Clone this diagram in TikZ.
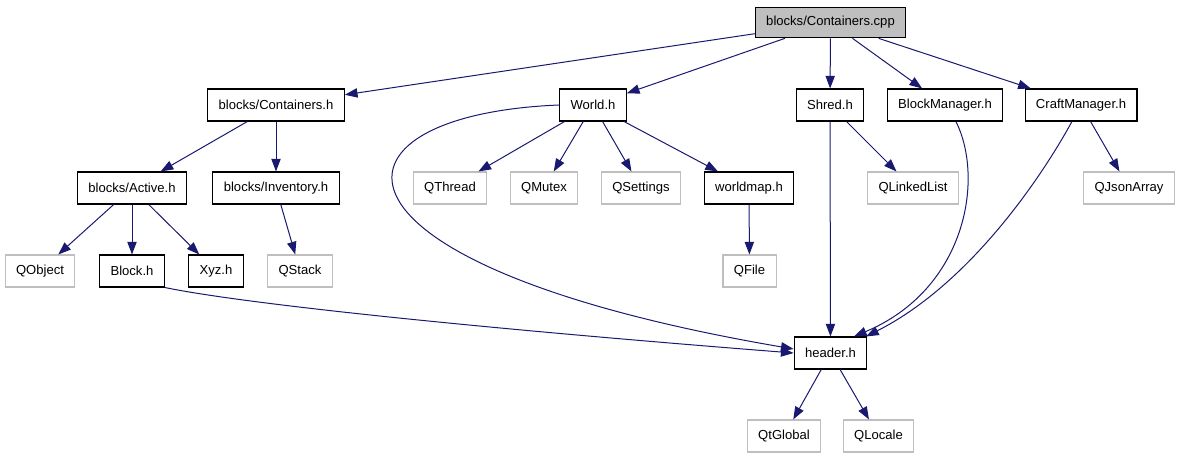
\documentclass[tikz,border=0pt]{standalone}
\usepackage{fontspec}
\setmainfont{Liberation Sans}
\usetikzlibrary{arrows.meta}
\definecolor{edgeblue}{RGB}{25,25,112}
\definecolor{grey75}{RGB}{191,191,191}

\begin{document}
\begin{tikzpicture}[x=0.75pt,y=-0.75pt,every node/.style={font=\fontsize{9.8}{11}\selectfont,inner xsep=8.2pt,inner ysep=0pt,minimum height=24pt},
    docbox/.style={draw=black,fill=white,line width=0.8pt},
    extbox/.style={draw=grey75,fill=white,line width=0.8pt},
    edge/.style={draw=edgeblue,line width=0.75pt,-{Triangle[length=9.5pt,width=7pt]}}]
    \useasboundingbox (0,0) rectangle (1180,459);
    % file being documented
    \node[docbox,fill=grey75,minimum height=23pt] (cpp) at (830.5,22.5){blocks/Containers.cpp};
    % direct includes
    \node[docbox] (conth) at (276,105){blocks/Containers.h};
    \node[docbox] (world) at (593,105){World.h};
    \node[docbox] (shred) at (830,105){Shred.h};
    \node[docbox] (bman) at (945,105){BlockManager.h};
    \node[docbox] (cman) at (1081,105){CraftManager.h};
    % second level
    \node[docbox] (active) at (132,188){blocks/Active.h};
    \node[docbox] (inv) at (276,188){blocks/Inventory.h};
    \node[extbox] (qthread) at (450,188){QThread};
    \node[extbox] (qmutex) at (544,188){QMutex};
    \node[extbox] (qsett) at (641,188){QSettings};
    \node[docbox] (wmap) at (749,188){worldmap.h};
    \node[extbox] (qllist) at (913,188){QLinkedList};
    \node[extbox] (qjson) at (1129,188){QJsonArray};
    % third level
    \node[extbox] (qobj) at (40,271){QObject};
    \node[docbox] (block) at (132,271){Block.h};
    \node[docbox] (xyz) at (216,271){Xyz.h};
    \node[extbox] (qstack) at (300,271){QStack};
    \node[extbox] (qfile) at (749.5,271){QFile};
    \node[docbox] (header) at (830.5,353){header.h};
    \node[extbox] (qglobal) at (784,436){QtGlobal};
    \node[extbox] (qlocale) at (878.5,436){QLocale};
    % include edges
    \draw[edge] (cpp)--(conth);
    \draw[edge] (cpp)--(world);
    \draw[edge] (cpp)--(shred);
    \draw[edge] (cpp)--(bman);
    \draw[edge] (cpp)--(cman);
    \draw[edge] (conth)--(active);
    \draw[edge] (conth)--(inv);
    \draw[edge] (world)--(qthread);
    \draw[edge] (world)--(qmutex);
    \draw[edge] (world)--(qsett);
    \draw[edge] (world)--(wmap);
    \draw[edge] (world.west) .. controls (312,115) and (302,265) .. ([yshift=3pt]header.west);
    \draw[edge] (shred)--(header);
    \draw[edge] (shred)--(qllist);
    \draw[edge] ([xshift=8.2pt]bman.south) .. controls (985,180) and (965,290) .. ([xshift=17.6pt]header.north);
    \draw[edge] ([xshift=-6.8pt]cman.south) .. controls (1040,180) and (968,285) .. ([xshift=-1pt]header.north east);
    \draw[edge] (cman)--(qjson);
    \draw[edge] (active)--(qobj);
    \draw[edge] (active)--(block);
    \draw[edge] (active)--(xyz);
    \draw[edge] (inv)--(qstack);
    \draw[edge] (wmap)--(qfile);
    \draw[edge] (block.south east) .. controls (250,305) and (500,330) .. (header.west);
    \draw[edge] (header)--(qglobal);
    \draw[edge] (header)--(qlocale);
  \end{tikzpicture}
\end{document}
